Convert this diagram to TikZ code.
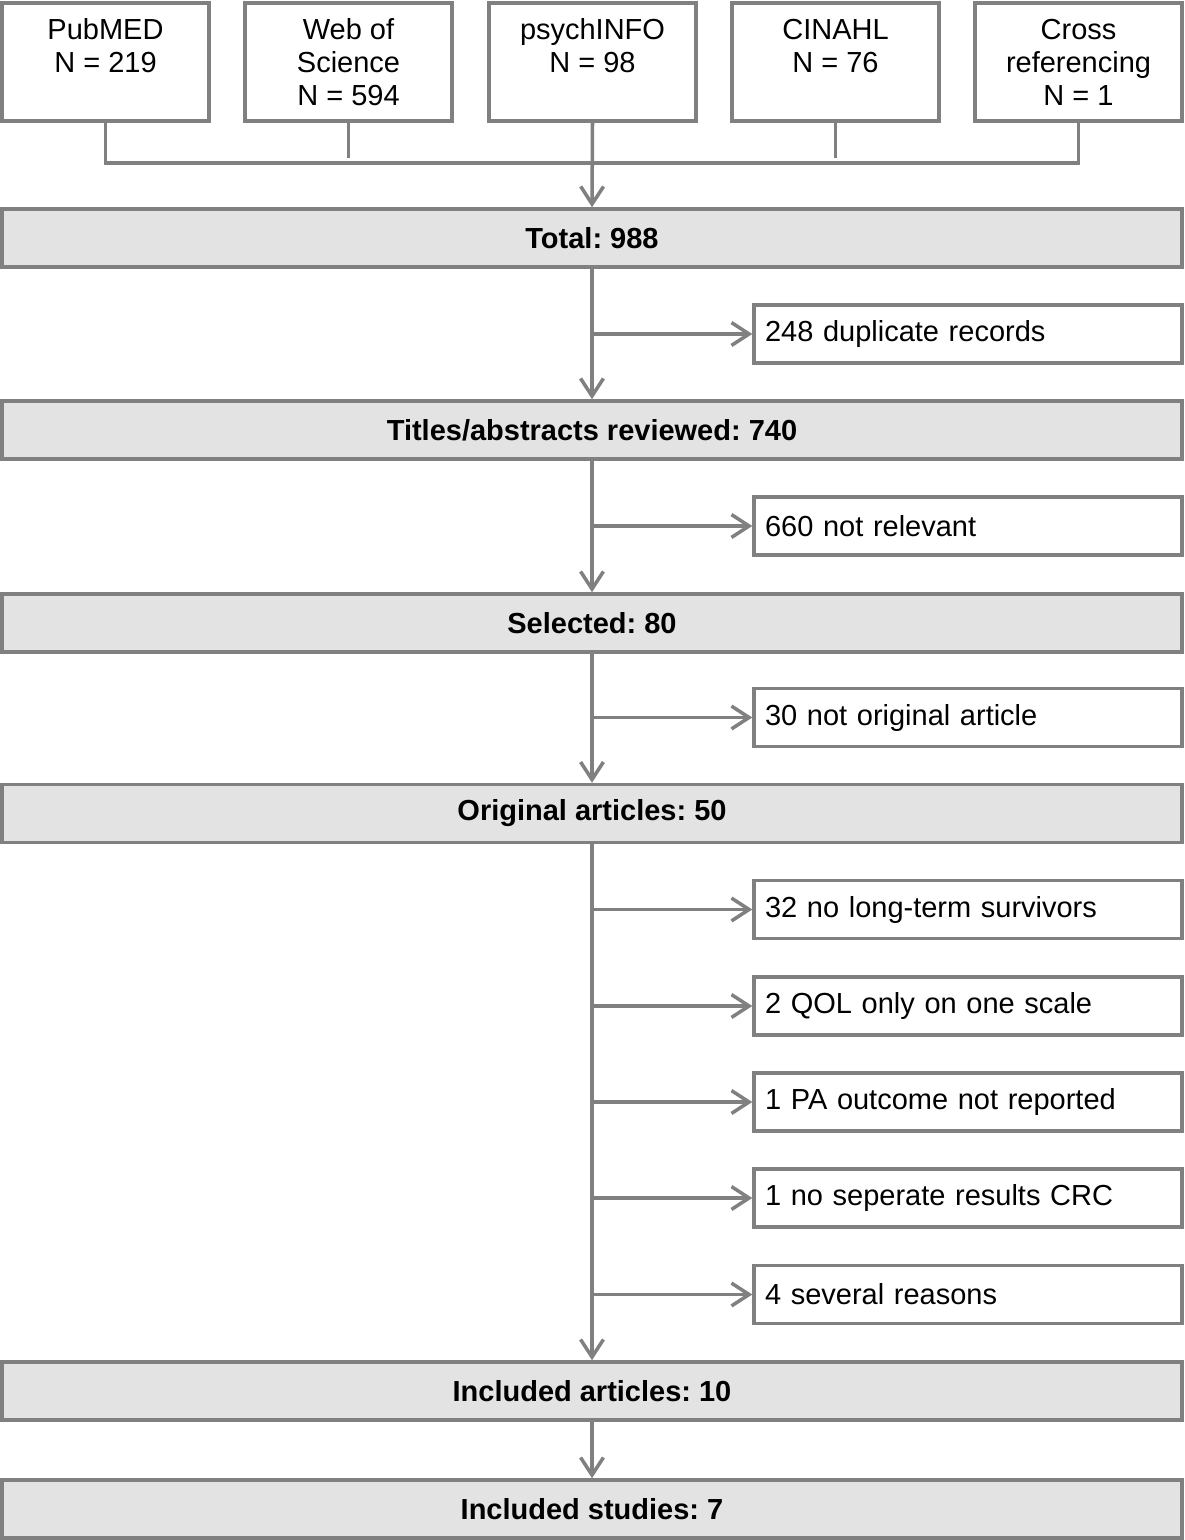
\documentclass[tikz,border=0pt]{standalone}
\usepackage{fontspec}
\setmainfont{Liberation Sans}
\usetikzlibrary{positioning, arrows.meta}
\definecolor{flowgray}{HTML}{808080}
\definecolor{flowfill}{HTML}{E3E3E3}
\frenchspacing

\begin{document}
\begin{tikzpicture}[x=0.02cm, y=-0.02cm, font=\fontsize{16.5}{18.8}\selectfont,
    srcbox/.style={draw=flowgray, line width=2pt, fill=white, align=center,
      minimum width=4.14cm, minimum height=2.36cm, inner sep=0pt},
    mainbox/.style={draw=flowgray, line width=2pt, fill=flowfill, font=\fontsize{16.5}{18.8}\selectfont\bfseries,
      minimum width=23.6cm, minimum height=1.16cm, inner sep=0pt},
    exclbox/.style={draw=flowgray, line width=2pt, fill=white, align=left,
      minimum width=8.56cm, text width=8.12cm, minimum height=1.16cm, inner xsep=0.22cm, inner ysep=0pt},
    link/.style={draw=flowgray, line width=2pt},
    flow/.style={link, -{Straight Barb[length=10pt, width=13pt]}}]
  \useasboundingbox (0,0) rectangle (1185,1540);

  % databases
  \node[srcbox] (pubmed) at (105.5,62) {PubMED\\N = 219\\~};
  \node[srcbox] (wos) at (348.5,62) {Web of\\Science\\N = 594};
  \node[srcbox] (psych) at (592.5,62) {psychINFO\\N = 98\\~};
  \node[srcbox] (cinahl) at (835.5,62) {CINAHL\\N = 76\\~};
  \node[srcbox] (crossref) at (1078.5,62) {Cross\\referencing\\N = 1};

  % main stream
  \node[mainbox] (total) at (592,238) {Total: 988};
  \node[mainbox] (titles) at (592,430) {Titles/abstracts reviewed: 740};
  \node[mainbox] (selected) at (592,623) {Selected: 80};
  \node[mainbox] (original) at (592,813.5) {Original articles: 50};
  \node[mainbox] (inclart) at (592,1391) {Included articles: 10};
  \node[mainbox] (inclstud) at (592,1509) {Included studies: 7};

  % exclusions
  \node[exclbox] (dupl) at (968,334) {248 duplicate records};
  \node[exclbox] (notrel) at (968,526) {660 not relevant};
  \node[exclbox] (notorig) at (968,717.5) {30 not original article};
  \node[exclbox] (nolong) at (968,909.5) {32 no long-term survivors};
  \node[exclbox] (qol) at (968,1006) {2 QOL only on one scale};
  \node[exclbox] (paout) at (968,1102) {1 PA outcome not reported};
  \node[exclbox] (nocrc) at (968,1198) {1 no seperate results CRC};
  \node[exclbox] (several) at (968,1294.5) {4 several reasons};

  % collecting line
  \coordinate (bus) at (592.5,163);
  \draw[link] (pubmed.south) |- (bus) -| (crossref.south);
  \draw[link] (wos.south) -- ++(0,35);
  \draw[link] (cinahl.south) -- ++(0,35);
  \draw[flow] (psych.south) -- (total.north);

  \draw[flow] (total) -- (titles);
  \draw[flow] (total.south |- dupl.west) -- (dupl.west);
  \draw[flow] (titles) -- (selected);
  \draw[flow] (titles.south |- notrel.west) -- (notrel.west);
  \draw[flow] (selected) -- (original);
  \draw[flow] (selected.south |- notorig.west) -- (notorig.west);
  \draw[flow] (original) -- (inclart);
  \draw[flow] (original.south |- nolong.west) -- (nolong.west);
  \draw[flow] (original.south |- qol.west) -- (qol.west);
  \draw[flow] (original.south |- paout.west) -- (paout.west);
  \draw[flow] (original.south |- nocrc.west) -- (nocrc.west);
  \draw[flow] (original.south |- several.west) -- (several.west);
  \draw[flow] (inclart) -- (inclstud);
\end{tikzpicture}
\end{document}
